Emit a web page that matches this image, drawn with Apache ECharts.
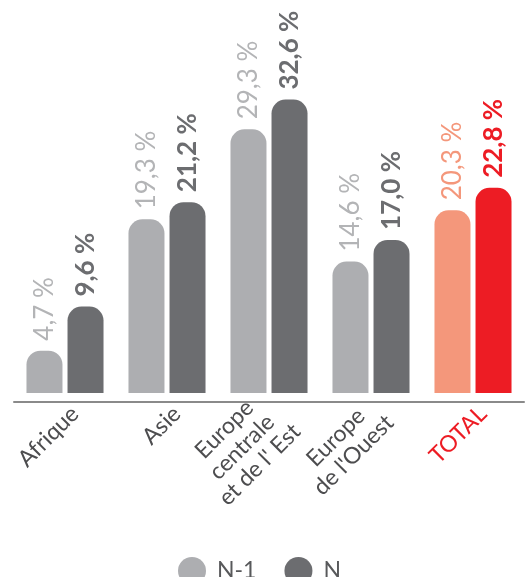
<!DOCTYPE html>
<html>
<head>
<meta charset="utf-8">
<script src="https://cdn.jsdelivr.net/npm/echarts@6/dist/echarts.min.js"></script>
<style>
  html, body { margin: 0; padding: 0; background: #fff; }
  #chart { width: 525px; height: 577px; }
</style>
</head>
<body>
<div id="chart"></div>
<script>
// données
var categories = ['Afrique', 'Asie', 'Europe\ncentrale\net de l\' Est', 'Europe\nde l\'Ouest', 'TOTAL'];
var seriesNames = ['N-1', 'N'];
var valuesPrev = [4.7, 19.3, 29.3, 14.6, 20.3];
var valuesCur = [9.6, 21.2, 32.6, 17.0, 22.8];

var greyPrev = '#adaeb1';
var greyCur = '#6c6d70';
var redPrev = '#f4977b';
var redCur = '#ed1c24';
var font = 'Lato';

function fmt(p) {
  return p.value.toFixed(1).replace('.', ',') + ' %';
}

// la dernière catégorie (TOTAL) est en rouge
function buildData(values, barColor) {
  return values.map(function (v, i) {
    if (i === values.length - 1) {
      return { value: v, itemStyle: { color: barColor }, label: { color: barColor } };
    }
    return v;
  });
}

var chart = echarts.init(document.getElementById('chart'));

var option = {
  backgroundColor: '#fff',
  animation: false,
  grid: { left: 14, right: 1, top: 33, bottom: 175 },
  legend: {
    data: seriesNames,
    icon: 'circle',
    itemWidth: 28,
    itemHeight: 28,
    itemGap: 28,
    left: 173,
    top: 552,
    textStyle: { color: '#58595b', fontSize: 23, fontFamily: font, padding: [0, 0, 0, 6] }
  },
  xAxis: {
    type: 'category',
    data: categories.map(function (c, i) {
      if (i === categories.length - 1) {
        return { value: c, textStyle: { color: '#ed1c24' } };
      }
      return c;
    }),
    axisLine: { onZero: false, lineStyle: { color: '#8a8a8a', width: 2 } },
    axisTick: { show: false },
    axisLabel: {
      interval: 0,
      rotate: 45,
      margin: 18,
      color: '#4d4d4f',
      fontSize: 23,
      fontFamily: font,
      lineHeight: 25,
      padding: [0, -14, 0, 0],
      formatter: function (v) {
        return v.split('\n').map(function (s) { return '{a|' + s + '}'; }).join('\n');
      },
      rich: { a: { align: 'center', fontSize: 23, fontFamily: font, lineHeight: 25 } }
    }
  },
  yAxis: { type: 'value', min: -1, max: 40, show: false, splitLine: { show: false } },
  series: [
    {
      name: 'N-1',
      type: 'bar',
      barWidth: 36,
      barGap: '14%',
      color: greyPrev,
      itemStyle: { borderRadius: [14, 14, 0, 0] },
      label: {
        show: true, position: 'top', rotate: 90, align: 'left', verticalAlign: 'middle',
        distance: 10, color: '#b3b4b6', fontSize: 26, fontFamily: font, formatter: fmt
      },
      data: buildData(valuesPrev, redPrev)
    },
    {
      name: 'N',
      type: 'bar',
      barWidth: 36,
      color: greyCur,
      itemStyle: { borderRadius: [14, 14, 0, 0] },
      label: {
        show: true, position: 'top', rotate: 90, align: 'left', verticalAlign: 'middle',
        distance: 10, color: greyCur, fontSize: 26, fontWeight: 'bold', fontFamily: font, formatter: fmt
      },
      data: buildData(valuesCur, redCur)
    }
  ]
};

chart.setOption(option);
</script>
</body>
</html>
